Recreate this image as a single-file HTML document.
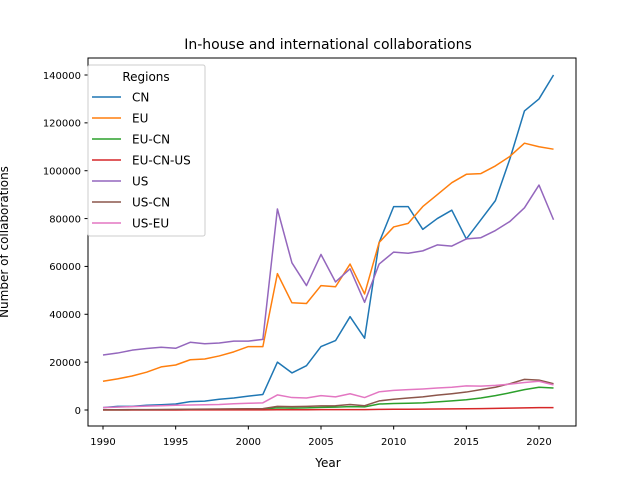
<!DOCTYPE html>
<html><head><meta charset="utf-8"><style>
body{margin:0;background:#fff}
svg{display:block;font-family:"DejaVu Sans","Liberation Sans",sans-serif}
</style></head><body>
<svg id="chart" width="640" height="480" xmlns="http://www.w3.org/2000/svg">
<rect width="640" height="480" fill="#fff"/>
<text x="328" y="49" font-size="14" text-anchor="middle">In-house and international collaborations</text>
<g id="plot"></g>
<rect x="88" y="58" width="488" height="368" fill="none" stroke="#000" stroke-width="1"/>
<text x="328" y="467" font-size="12" text-anchor="middle">Year</text>
<text transform="translate(4,242) rotate(-90)" font-size="12" text-anchor="middle" dy="4">Number of collaborations</text>
<g id="legend"></g>
</svg>
<script>
const years=[1990,1991,1992,1993,1994,1995,1996,1997,1998,1999,2000,2001,2002,2003,2004,2005,2006,2007,2008,2009,2010,2011,2012,2013,2014,2015,2016,2017,2018,2019,2020,2021];
const seriesNames=["CN","EU","EU-CN","EU-CN-US","US","US-CN","US-EU"];
const colors=["#1f77b4","#ff7f0e","#2ca02c","#d62728","#9467bd","#8c564b","#e377c2"];
const cn=[1000,1500,1500,2000,2200,2500,3500,3700,4500,5000,5800,6500,20000,15500,18500,26500,29000,39000,30000,70000,85000,85000,75500,80000,83500,71500,79500,87500,105000,125000,130000,140000];
const eu=[12000,13000,14200,15800,18000,18800,21000,21300,22600,24300,26500,26500,57000,44800,44500,52000,51500,61000,48500,70000,76500,78000,85000,90000,95000,98500,98800,102000,106000,111500,110000,109000];
const euCn=[50,60,80,100,120,150,200,250,300,350,400,450,900,800,900,1100,1200,1400,1300,2500,2700,2800,3000,3400,3800,4300,5000,6000,7200,8500,9500,9200];
const euCnUs=[10,10,15,20,20,25,30,35,40,45,50,60,120,110,120,150,160,180,170,250,300,330,380,420,470,520,600,700,800,900,1000,1000];
const us=[23000,23800,25000,25700,26200,25800,28300,27700,28000,28800,28800,29500,84000,61500,52000,65000,53500,59000,45000,61000,66000,65500,66500,69000,68500,71500,72000,75000,78800,84500,94000,79500];
const usCn=[100,120,150,180,200,250,300,350,400,450,500,600,1500,1400,1500,1700,1800,2300,1800,3800,4500,5000,5500,6200,6800,7500,8500,9500,11000,12800,12500,11000];
const usEu=[1000,1200,1400,1600,1800,2000,2100,2200,2300,2600,2800,3000,6300,5200,5000,6000,5500,6800,5200,7600,8200,8500,8800,9200,9500,10100,10000,10300,10800,11500,12000,10500];
const xTicks=[1990,1995,2000,2005,2010,2015,2020];
const yTicks=[0,20000,40000,60000,80000,100000,120000,140000];
const yTickLabels=["0","20000","40000","60000","80000","100000","120000","140000"];

const NS="http://www.w3.org/2000/svg";
const xScale=v=>103+(v-1990)*(539-103)/30;
const yScale=v=>410-v*(410-75)/140000;
const plot=document.getElementById('plot');
function mk(tag,attrs,parent){const e=document.createElementNS(NS,tag);for(const k in attrs)e.setAttribute(k,attrs[k]);parent.appendChild(e);return e;}
xTicks.forEach((t,i)=>{
  const g=mk('g',{},plot);
  
  
  mk('line',{x1:xScale(t),x2:xScale(t),y1:426,y2:429.5,stroke:'#000'},g);
  const tx=mk('text',{x:xScale(t),y:445,'font-size':10,'text-anchor':'middle'},g);tx.textContent=t;
});
yTicks.forEach((t,i)=>{
  const g=mk('g',{},plot);
  
  
  mk('line',{x1:84.5,x2:88,y1:yScale(t),y2:yScale(t),stroke:'#000'},g);
  const tx=mk('text',{x:81,y:yScale(t)+3.8,'font-size':10,'text-anchor':'end'},g);tx.textContent=yTickLabels[i];
});
const data=[cn,eu,euCn,euCnUs,us,usCn,usEu];
data.forEach((s,i)=>{
  const p=mk('polyline',{points:s.map((v,j)=>xScale(years[j])+','+yScale(v)).join(' '),fill:'none',stroke:colors[i],'stroke-width':1.5,'stroke-linejoin':'round'},plot);
  
  
});
const lg=document.getElementById('legend');


mk('rect',{x:88,y:65,width:117,height:171,rx:2,fill:'#fff','fill-opacity':0.8,stroke:'#ccc'},lg);
const lt=mk('text',{x:146,y:81,'font-size':12,'text-anchor':'middle'},lg);lt.textContent='Regions';
seriesNames.forEach((n,i)=>{
  const g=mk('g',{},lg);
  
  
  const y=97+i*21;
  mk('line',{x1:92,x2:121,y1:y,y2:y,stroke:colors[i],'stroke-width':1.5},g);
  const t=mk('text',{x:132,y:y+4.5,'font-size':12},g);t.textContent=n;
});
</script>
</body></html>
